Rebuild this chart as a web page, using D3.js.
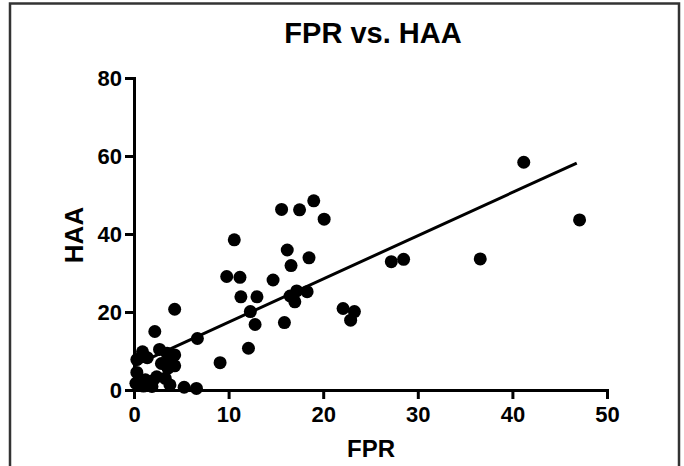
<!DOCTYPE html>
<html>
<head>
<meta charset="utf-8">
<script src="https://cdn.jsdelivr.net/npm/d3@7"></script>
<style>
  body { margin: 0; background: #fff; }
  svg text { font-family: "Liberation Sans", Arial, sans-serif; font-weight: bold; fill: #000; }
</style>
</head>
<body>
<svg id="area" width="684" height="466"></svg>
<script>
// FPR (x) and HAA (y)
const fpr = [
  0.3, 0.9, 1.4, 2.2, 2.7, 3.5, 4.3, 3.8, 2.9, 4.3, 3.6, 0.3, 1.2, 2.4, 3.3, 0.2,
  1.0, 1.9, 2.0, 3.8, 5.3, 6.6, 4.3, 6.7, 9.1, 12.1,
  15.6, 17.5, 19.0, 20.1, 10.6, 16.2, 18.5, 16.6, 9.8, 11.2, 14.7, 17.2, 18.3,
  16.5, 17.0, 11.3, 13.0, 12.3, 12.8, 15.9, 22.1, 23.3, 22.9, 27.2, 28.5, 36.6,
  41.2, 47.1,
];
const haa = [
  7.8, 9.8, 8.3, 15.0, 10.4, 9.4, 9.0, 7.6, 6.8, 6.2, 5.6, 4.5, 2.6, 3.4, 3.0, 1.7,
  1.0, 0.9, 2.4, 1.3, 0.7, 0.4, 20.7, 13.2, 7.0, 10.7,
  46.3, 46.2, 48.5, 43.8, 38.5, 35.9, 33.9, 31.9, 29.1, 28.9, 28.2, 25.4, 25.2,
  24.1, 22.6, 23.9, 23.9, 20.1, 16.8, 17.3, 20.9, 20.1, 17.9, 32.9, 33.5, 33.6,
  58.4, 43.6,
];
// regression line ends
const fitX = [0.1, 46.8];
const fitY = [6.4, 58.2];
const xTicks = [0, 10, 20, 30, 40, 50];
const yTicks = [0, 20, 40, 60, 80];

const svg = d3.select('#area');

// frame round the whole graph
svg.append('rect')
  .attr('x', 10).attr('y', 3.5)
  .attr('width', 669).attr('height', 480)
  .attr('fill', 'none')
  .attr('stroke', '#333')
  .attr('stroke-width', 2.5);

const x = d3.scaleLinear([0, 50], [134, 607]);
const y = d3.scaleLinear([0, 80], [390, 78]);

const xAxis = svg.append('g')
  .attr('transform', `translate(0,${y(0)})`)
  .call(d3.axisBottom(x).tickValues(xTicks).tickSize(9).tickPadding(7).tickSizeOuter(0));
const yAxis = svg.append('g')
  .attr('transform', `translate(${x(0)},0)`)
  .call(d3.axisLeft(y).tickValues(yTicks).tickSize(9).tickPadding(3).tickSizeOuter(0));

[xAxis, yAxis].forEach((g) => {
  g.selectAll('path, line').attr('stroke', '#000').attr('stroke-width', 3);
  g.selectAll('text').style('font-size', '22px').attr('fill', '#000');
  g.select('path').attr('stroke-linecap', 'square');
});

// fit line
svg.append('line')
  .attr('x1', x(fitX[0])).attr('y1', y(fitY[0]))
  .attr('x2', x(fitX[1])).attr('y2', y(fitY[1]))
  .attr('stroke', '#000')
  .attr('stroke-width', 3);

svg.append('g')
  .selectAll('circle')
  .data(d3.zip(fpr, haa))
  .join('circle')
  .attr('cx', (d) => x(d[0]))
  .attr('cy', (d) => y(d[1]))
  .attr('r', 6.5)
  .attr('fill', '#000');

svg.append('text')
  .attr('x', 373).attr('y', 43)
  .attr('text-anchor', 'middle')
  .style('font-size', '29px')
  .text('FPR vs. HAA');

svg.append('text')
  .attr('x', 371).attr('y', 457)
  .attr('text-anchor', 'middle')
  .style('font-size', '24px')
  .text('FPR');

svg.append('text')
  .attr('transform', 'translate(82.5,235) rotate(-90)')
  .attr('text-anchor', 'middle')
  .style('font-size', '26px')
  .text('HAA');
</script>
</body>
</html>
